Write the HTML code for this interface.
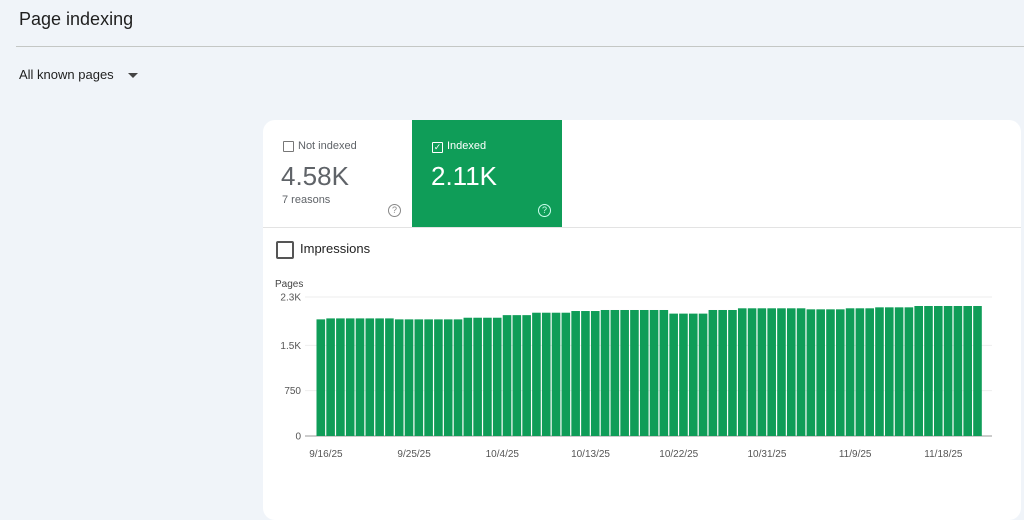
<!DOCTYPE html>
<html><head><meta charset="utf-8">
<style>
body{margin:0;width:1024px;height:491px;background:#f0f4f9;font-family:"Liberation Sans",sans-serif;position:relative;overflow:hidden;color:#1f1f1f}
.abs{position:absolute}
</style></head><body>
<div class="abs" style="left:19px;top:9px;font-size:18px;color:#1f1f1f">Page indexing</div>
<div class="abs" style="left:16px;top:46px;width:1008px;height:1px;background:#c4c7c5"></div>
<div class="abs" style="left:19px;top:67px;font-size:13px;color:#1f1f1f">All known pages<span style="display:inline-block;margin-left:14px;width:0;height:0;border-left:5px solid transparent;border-right:5px solid transparent;border-top:5px solid #444;vertical-align:middle"></span></div>
<div class="abs" style="left:263px;top:120px;width:758px;height:400px;background:#fff;border-radius:12px"></div>
<div class="abs" style="left:263px;top:120px;width:149px;height:107px;border-top-left-radius:12px">
  <div class="abs" style="left:20px;top:21px;width:9px;height:9px;border:1px solid #777;border-radius:1px"></div>
  <div class="abs" style="left:35px;top:20px;font-size:11px;color:#5f6368">Not indexed</div>
  <div class="abs" style="left:18px;top:41px;font-size:26px;color:#5f6368">4.58K</div>
  <div class="abs" style="left:19px;top:74px;font-size:11px;color:#5f6368">7 reasons</div>
  <div class="abs" style="left:125px;top:84px;width:11px;height:11px;border:1px solid #888;border-radius:50%;font-size:9px;line-height:11px;text-align:center;color:#888">?</div>
</div>
<div class="abs" style="left:412px;top:120px;width:150px;height:107px;background:#0f9d58;color:#fff">
  <div class="abs" style="left:20px;top:22px;width:9px;height:9px;border:1px solid #fff;border-radius:1px;font-size:9px;line-height:9px;text-align:center">✓</div>
  <div class="abs" style="left:35px;top:20px;font-size:11px">Indexed</div>
  <div class="abs" style="left:19px;top:41px;font-size:26px">2.11K</div>
  <div class="abs" style="left:126px;top:84px;width:11px;height:11px;border:1px solid #cfe;border-radius:50%;font-size:9px;line-height:11px;text-align:center;color:#cfe">?</div>
</div>
<div class="abs" style="left:263px;top:227px;width:758px;height:1px;background:#e3e3e3"></div>
<div class="abs" style="left:276px;top:241px;width:14px;height:14px;border:2px solid #555;border-radius:2px"></div>
<div class="abs" style="left:300px;top:241px;font-size:13px;color:#1f1f1f">Impressions</div>
<svg class="abs" style="left:0;top:0" width="1024" height="491"></svg>
<script>
const categories=[];
(function(){let d=new Date(2025,8,16);for(let i=0;i<68;i++){categories.push((d.getMonth()+1)+'/'+d.getDate()+'/25');d.setDate(d.getDate()+1);}})();
const values=[1930,1946,1946,1946,1946,1946,1946,1946,1930,1930,1930,1930,1930,1930,1930,1957,1957,1957,1957,2000,2000,2000,2040,2040,2040,2040,2068,2068,2068,2085,2085,2085,2085,2085,2085,2085,2025,2025,2025,2025,2085,2085,2085,2113,2113,2113,2113,2113,2113,2113,2096,2096,2096,2096,2113,2113,2113,2129,2129,2129,2129,2151,2151,2151,2151,2151,2151,2151];
const yTicks=[0,750,1500,2300];
const yTickLabels=['0','750','1.5K','2.3K'];
const xLabelIdx=[0,9,18,27,36,45,54,63];
const svg=document.querySelector('svg');
const NS='http://www.w3.org/2000/svg';
const x0=316,x1=982.5,yBase=436,yTop=297,yMax=2300;
const bw=(x1-x0)/categories.length;
const y=v=>yBase-(v/yMax)*(yBase-yTop);
const x=i=>x0+i*bw;
function mk(t,a){const e=document.createElementNS(NS,t);for(const k in a)e.setAttribute(k,a[k]);svg.appendChild(e);return e;}
const yl=mk('text',{x:275,y:287,'font-size':10,fill:'#444','font-family':'Liberation Sans'});yl.textContent='Pages';


yTicks.forEach((t,i)=>{
  const g=mk('line',{x1:305,x2:992,y1:y(t),y2:y(t),stroke:i==0?'#999':'#eee','stroke-width':1});
  
  
  const l=mk('text',{x:301,y:y(t)+3.5,'text-anchor':'end','font-size':10,fill:'#555','font-family':'Liberation Sans'});
  l.textContent=yTickLabels[i];
  
  
});
values.forEach((v,i)=>{
  const r=mk('rect',{x:x(i)+0.5,y:y(v),width:bw-1.2,height:yBase-y(v),fill:'#0f9d58'});
  
  
});
xLabelIdx.forEach(i=>{
  const l=mk('text',{x:x(i)+bw/2+5,y:457,'text-anchor':'middle','font-size':10,fill:'#555','font-family':'Liberation Sans'});
  l.textContent=categories[i];
  
  
});
</script>
</body></html>
